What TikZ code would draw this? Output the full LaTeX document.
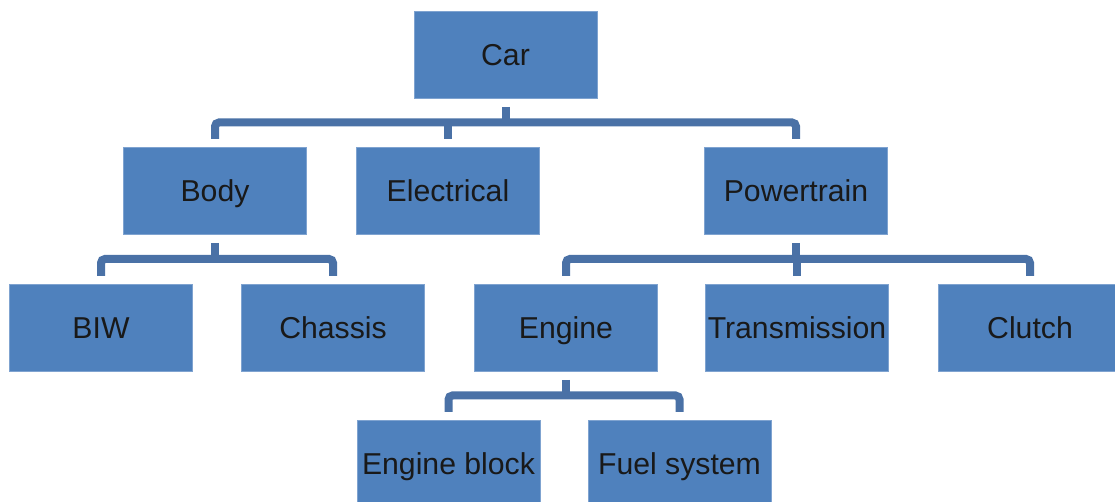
\documentclass[tikz,border=0pt]{standalone}
\usepackage{fontspec}
\setmainfont{Liberation Sans}
\usetikzlibrary{positioning,calc}
\definecolor{boxblue}{HTML}{4F81BD}
\definecolor{boxedge}{HTML}{7FA3D0}
\definecolor{linkblue}{HTML}{4A71A6}

\begin{document}
\begin{tikzpicture}[
  x=0.5pt, y=-0.5pt,
  font=\fontsize{15.1}{17}\selectfont,
  part/.style={draw=boxedge, line width=0.4pt, fill=boxblue, minimum width=91.5pt, minimum height=43.5pt,
    inner sep=0pt, outer sep=0pt, text height=12.5pt, text depth=1.2pt, text=black!90},
  link/.style={draw=linkblue, line width=4pt, rounded corners=2pt},
  node distance=25pt]
\useasboundingbox (0,0) rectangle (1115,502);
\clip (0,0) rectangle (1115,502);
\node[part] at (505.5,54.5) (car) {Car};
\node[part] at (215,190.5) (body) {Body};
\node[part, right=25pt of body] (elec) {Electrical};
\node[part, right=82.5pt of elec] (power) {Powertrain};
\node[part] at (101,327.5) (biw) {BIW};
\node[part, right=24.5pt of biw] (chassis) {Chassis};
\node[part, right=25pt of chassis] (engine) {Engine};
\node[part, right=24pt of engine] (trans) {Transmission};
\node[part, right=25pt of trans] (clutch) {Clutch};
\node[part] at (448.5,463.5) (block) {Engine block};
\node[part, right=24pt of block] (fuel) {Fuel system};
\coordinate (carbar) at ($(car.south)!0.5!(body.north)$);
\coordinate (bodybar) at ($(body.south)!0.5!(biw.north)$);
\coordinate (powerbar) at ($(power.south)!0.5!(engine.north)$);
\coordinate (enginebar) at ($(engine.south)!0.5!(block.north)$);
\draw[link] ([yshift=-4.5pt]car.south) -- (car.south |- carbar);
\draw[link] ([yshift=4pt]body.north) |- (carbar) -| ([yshift=4pt]power.north);
\draw[link] ([yshift=4pt]elec.north) -- (elec.north |- carbar);
\draw[link] ([yshift=-4.5pt]body.south) -- (body.south |- bodybar);
\draw[link] ([yshift=4pt]biw.north) |- (bodybar) -| ([yshift=4pt]chassis.north);
\draw[link] ([yshift=-4.5pt]power.south) -- (power.south |- powerbar);
\draw[link] ([yshift=4pt]engine.north) |- (powerbar) -| ([yshift=4pt]clutch.north);
\draw[link] ([yshift=4pt]trans.north) -- (trans.north |- powerbar);
\draw[link] ([yshift=-4.5pt]engine.south) -- (engine.south |- enginebar);
\draw[link] ([yshift=4pt]block.north) |- (enginebar) -| ([yshift=4pt]fuel.north);
\end{tikzpicture}
\end{document}
